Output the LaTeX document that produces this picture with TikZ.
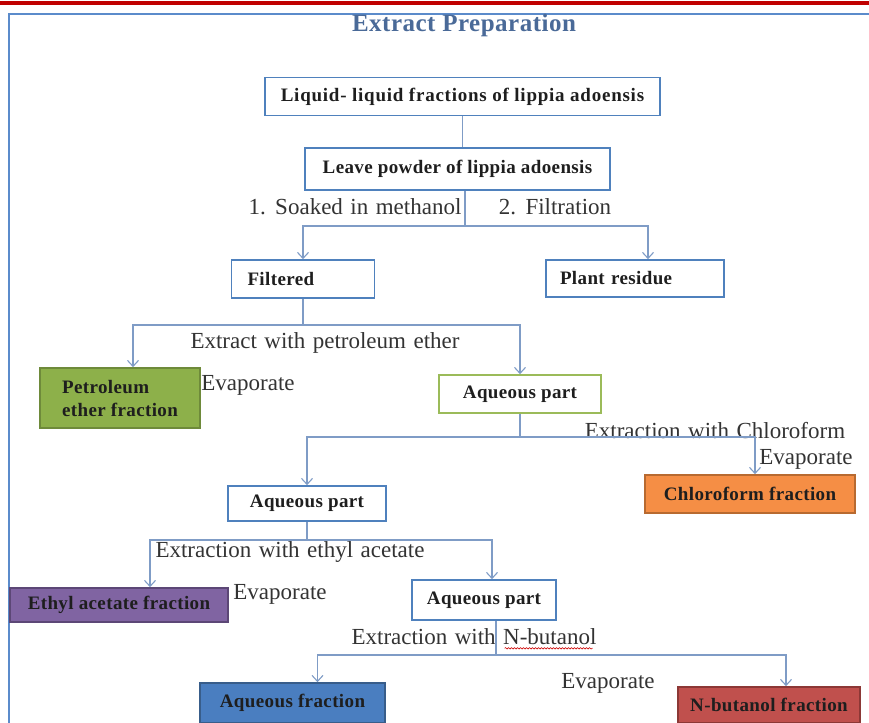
\documentclass[tikz,border=0pt]{standalone}
\usepackage{fontspec}
\setmainfont{Liberation Serif}
\newfontfamily\lblfont[WordSpace=1.3]{Liberation Serif}
\usetikzlibrary{arrows.meta,decorations.pathmorphing}
\definecolor{topred}{HTML}{C00000}
\definecolor{frameblue}{HTML}{5B8BCB}
\definecolor{titleblue}{HTML}{4A6A98}
\definecolor{boxblue}{HTML}{4F81BD}
\definecolor{linkblue}{HTML}{7F9CC6}
\definecolor{txtdark}{HTML}{1E1E1E}
\definecolor{txtgray}{HTML}{333333}
\definecolor{petgreen}{HTML}{8DB04A}
\definecolor{petedge}{HTML}{6E8A3A}
\definecolor{aqgreen}{HTML}{9BBB59}
\definecolor{chlorange}{HTML}{F58E45}
\definecolor{chledge}{HTML}{B86A30}
\definecolor{ethpurple}{HTML}{8064A2}
\definecolor{ethedge}{HTML}{5C4776}
\definecolor{aqfblue}{HTML}{4A7EC0}
\definecolor{aqfedge}{HTML}{385D8A}
\definecolor{nbured}{HTML}{C0504D}
\definecolor{nbuedge}{HTML}{8C3836}

\begin{document}
\begin{tikzpicture}[x=1pt, y=-1pt,
    box/.style={draw=boxblue, line width=1.6pt, minimum height=38pt, inner sep=0pt,
      font=\fontsize{19}{23}\selectfont\bfseries\addfontfeatures{LetterSpace=2}, text=txtdark},
    leftbox/.style={box, align=left, inner xsep=#1},
    conn/.style={draw=linkblue, line width=1.1pt},
    arr/.style={conn, -{Straight Barb[length=6pt, width=11pt]}},
    lbl/.style={font=\lblfont\fontsize{23}{26}\selectfont, text=txtgray, inner sep=0pt}
  ]
  \useasboundingbox (0,0) rectangle (869,722);

  % page decoration
  \draw[topred, line width=4pt] (0,3) -- (869,3);
  \draw[frameblue, line width=2pt] (9,740) -- (9,14) -- (890,14);
  \node[font=\fontsize{25}{28}\selectfont\bfseries\addfontfeatures{LetterSpace=2}, text=titleblue, anchor=base] (title) at (464,32) {Extract Preparation};

  % boxes
  \node[box, minimum width=395pt, font=\fontsize{19}{23}\selectfont\bfseries\addfontfeatures{LetterSpace=4}] (liq) at (462.5,96.5) {Liquid- liquid fractions of lippia adoensis};
  \node[box, minimum width=305pt, minimum height=42pt] (leaf) at (457.5,169) {Leave powder of lippia adoensis};
  \node[leftbox=16pt, text width=111pt] (filt) at (303,279) {Filtered};
  \node[leftbox=14pt, text width=150pt, minimum height=37pt] (pres) at (635,278.5) {Plant residue};
  \node[box, draw=petedge, fill=petgreen, minimum width=160pt, minimum height=60pt, align=left] (pet) at (120,398) {Petroleum\\ether fraction};
  \node[box, draw=aqgreen, minimum width=162pt] (aq1) at (520,394) {Aqueous part};
  \node[box, draw=chledge, fill=chlorange, minimum width=210pt] (chl) at (750,494) {Chloroform fraction};
  \node[box, minimum width=158pt, minimum height=35pt] (aq2) at (307,503.5) {Aqueous part};
  \node[box, draw=ethedge, fill=ethpurple, minimum width=218pt, minimum height=34pt] (eth) at (119,605) {Ethyl acetate fraction};
  \node[box, minimum width=144pt, minimum height=40pt] (aq3) at (484,600) {Aqueous part};
  \node[box, draw=aqfedge, fill=aqfblue, minimum width=185pt, minimum height=40pt] (aqf) at (292.5,703) {Aqueous fraction};
  \node[box, draw=nbuedge, fill=nbured, minimum width=182pt, minimum height=36pt] (nbu) at (769,705) {N-butanol fraction};

  % labels
  \node[lbl] (soak) at (355,207) {1. Soaked in methanol};
  \node[lbl] (filtr) at (555,207) {2. Filtration};
  \node[lbl] (petlab) at (325,343) {Extract with petroleum ether};
  \node[lbl] (evap1) at (248,385) {Evaporate};
  \node[lbl] (chllab) at (715,431) {Extraction with Chloroform};
  \node[lbl] (evap2) at (806,459) {Evaporate};
  \node[lbl] (ethlab) at (290,552) {Extraction with ethyl acetate};
  \node[lbl] (evap3) at (280,594) {Evaporate};
  \node[lbl] (nlab) at (474,637) {Extraction with N-butanol};
  \node[lbl] (evap4) at (608,683) {Evaporate};
  \draw[red!80!black, line width=0.6pt, decorate, decoration={snake, amplitude=0.7pt, segment length=3pt}]
    ([xshift=-92pt, yshift=-3pt]nlab.south east) -- ([xshift=-4pt, yshift=-3pt]nlab.south east);

  % connectors
  \coordinate (j1) at (465,226);
  \coordinate (j2) at (303,325);
  \coordinate (j3) at (520,437);
  \coordinate (j4) at (307,540);
  \coordinate (j5) at (496,655);

  \draw[conn] (liq.south) -- (liq.south |- leaf.north);
  \draw[conn] (leaf.south -| j1) -- (j1);
  \draw[arr] (j1) -| (filt.north);
  \draw[arr] (j1) -| ([xshift=13pt]pres.north);

  \draw[conn] (filt.south) -- (j2);
  \draw[arr] (j2) -| ([xshift=13pt]pet.north);
  \draw[arr] (j2) -| (aq1.north);

  \draw[conn] (aq1.south) -- (j3);
  \draw[arr] (j3) -| (aq2.north);
  \draw[arr] (j3) -| ([xshift=5pt]chl.north);

  \draw[conn] (aq2.south) -- (j4);
  \draw[arr] (j4) -| ([xshift=31pt]eth.north);
  \draw[arr] (j4) -| ([xshift=8pt]aq3.north);

  \draw[conn] ([xshift=12pt]aq3.south) -- (j5);
  \draw[arr] (j5) -| ([xshift=25pt]aqf.north);
  \draw[arr] (j5) -| ([xshift=17pt]nbu.north);
\end{tikzpicture}
\end{document}
